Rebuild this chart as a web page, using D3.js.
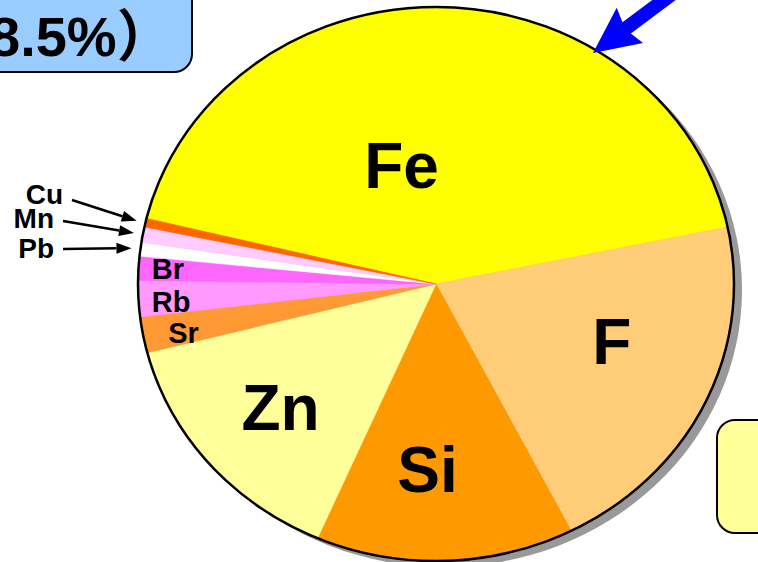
<!DOCTYPE html>
<html>
<head>
<meta charset="utf-8">
<script src="https://cdn.jsdelivr.net/npm/d3@7"></script>
<style>
  html, body { margin: 0; padding: 0; background: #fff; }
  svg { display: block; }
  text { font-family: "Liberation Sans", Arial, "Noto Sans CJK JP", sans-serif; font-weight: bold; fill: #000; }
</style>
</head>
<body>
<div id="chart"></div>
<script>
"use strict";

// element shares (%), clockwise starting with Fe
var elements = ["Fe", "F", "Si", "Zn", "Sr", "Rb", "Br", "Pb", "Mn", "Cu"];
var shares = [42.9, 20.8, 14.0, 14.5, 2.1, 2.1, 1.4, 0.8, 0.9, 0.5];
var sliceColors = ["#FFFF00", "#FFCC77", "#FF9900", "#FFFF99", "#FF9933", "#FF99FF", "#FF66FF", "#FFFFFF", "#FFCCFF", "#FF6600"];

var bigLabels = ["Fe", "F", "Si", "Zn"];
var innerLabels = ["Br", "Rb", "Sr"];
var outerLabels = ["Cu", "Mn", "Pb"];
var boxText = "8.5%）";

var width = 758, height = 562;
var cx = 436, cy = 284, rx = 298, ry = 277;
var sx = rx / ry;
var startAngle = -76.3 * Math.PI / 180;

var svg = d3.select("#chart").append("svg")
    .attr("width", width)
    .attr("height", height);

var data = elements.map(function (e, i) {
    return { name: e, value: shares[i], color: sliceColors[i] };
});

var pie = d3.pie()
    .sort(null)
    .value(function (d) { return d.value; })
    .startAngle(startAngle)
    .endAngle(startAngle + 2 * Math.PI);
var arcs = pie(data);
var byName = {};
arcs.forEach(function (a) { byName[a.data.name] = a; });

var arc = d3.arc().innerRadius(0).outerRadius(ry);

// point on the (stretched) pie at angle a, radius fraction k
function polar(a, k) {
    return [cx + rx * k * Math.sin(a), cy - ry * k * Math.cos(a)];
}
function mid(a) { return (a.startAngle + a.endAngle) / 2; }

// blue callout box (top left), its text runs off the page edge
svg.append("rect")
    .attr("x", -20).attr("y", -20)
    .attr("width", 212).attr("height", 92)
    .attr("rx", 18)
    .attr("fill", "#99CCFF")
    .attr("stroke", "#000")
    .attr("stroke-width", 2);
svg.append("text")
    .attr("x", -11).attr("y", 56)
    .attr("font-size", 56)
    .text(boxText);

// yellow box (bottom right)
svg.append("rect")
    .attr("x", 717).attr("y", 420)
    .attr("width", 80).attr("height", 113)
    .attr("rx", 18)
    .attr("fill", "#FFFF99")
    .attr("stroke", "#000")
    .attr("stroke-width", 2);

// shadow
svg.append("ellipse")
    .attr("cx", cx + 8).attr("cy", cy + 6)
    .attr("rx", rx).attr("ry", ry)
    .attr("fill", "#999999");

var pieLayer = svg.append("g")
    .attr("transform", "translate(" + cx + "," + cy + ") scale(" + sx + ",1)");

pieLayer.selectAll("path")
    .data(arcs)
    .enter().append("path")
    .attr("d", arc)
    .attr("fill", function (d) { return d.data.color; })
    .attr("stroke", function (d) { return d.data.color; })
    .attr("stroke-width", 0.6);

svg.append("ellipse")
    .attr("cx", cx).attr("cy", cy)
    .attr("rx", rx).attr("ry", ry)
    .attr("fill", "none")
    .attr("stroke", "#000")
    .attr("stroke-width", 2.5);

// big labels: radius fraction and angle nudge (deg) from slice middle
var bigLayout = { Fe: [0.445, -16], F: [0.625, -6.3], Si: [0.67, 4.2], Zn: [0.686, 0] };
bigLabels.forEach(function (name) {
    var a = byName[name];
    var l = bigLayout[name];
    var p = polar(mid(a) + l[1] * Math.PI / 180, l[0]);
    svg.append("text")
        .attr("x", p[0]).attr("y", p[1] + 23)
        .attr("text-anchor", "middle")
        .attr("font-size", 64)
        .text(name);
});

// small labels inside thin slices
var innerNudge = { Br: [0, 0], Rb: [0, 3], Sr: [12, 0] };
innerLabels.forEach(function (name) {
    var a = byName[name];
    var p = polar(mid(a), 0.955);
    var n = innerNudge[name];
    svg.append("text")
        .attr("x", p[0] + n[0]).attr("y", p[1] + 10.5 + n[1])
        .attr("font-size", 29)
        .text(name);
});

// outside labels with arrows
var outerLayout = { Cu: [72, 200, 204], Mn: [63, 221, 228], Pb: [63, 249, 258] };
outerLabels.forEach(function (name) {
    var a = byName[name];
    var tip = polar(mid(a), 1.03);
    var l = outerLayout[name];
    var tail = [l[0], l[1]];
    var ang = Math.atan2(tip[1] - tail[1], tip[0] - tail[0]);
    var hl = 15, hw = 5.5;
    var base = [tip[0] - hl * Math.cos(ang), tip[1] - hl * Math.sin(ang)];
    svg.append("line")
        .attr("x1", tail[0]).attr("y1", tail[1])
        .attr("x2", base[0]).attr("y2", base[1])
        .attr("stroke", "#000")
        .attr("stroke-width", 2.5);
    svg.append("path")
        .attr("d", d3.line()([
            tip,
            [base[0] + hw * Math.sin(ang), base[1] - hw * Math.cos(ang)],
            [base[0] - hw * Math.sin(ang), base[1] + hw * Math.cos(ang)]
        ]) + "Z")
        .attr("fill", "#000");
    svg.append("text")
        .attr("x", l[0] - 9).attr("y", l[2])
        .attr("text-anchor", "end")
        .attr("font-size", 28)
        .text(name);
});

// blue arrow pointing at the Fe rim
(function () {
    var tip = [593, 53];
    var ang = Math.atan2(-53, 71);
    var ux = Math.cos(ang), uy = Math.sin(ang);
    var px = -uy, py = ux;
    var hl = 46, hw = 22, sw = 7, len = 140;
    var b = [tip[0] + hl * ux, tip[1] + hl * uy];
    var e = [tip[0] + len * ux, tip[1] + len * uy];
    var pts = [
        tip,
        [b[0] + hw * px, b[1] + hw * py],
        [b[0] - 4 * ux + sw * px, b[1] - 4 * uy + sw * py],
        [e[0] + sw * px, e[1] + sw * py],
        [e[0] - sw * px, e[1] - sw * py],
        [b[0] - 4 * ux - sw * px, b[1] - 4 * uy - sw * py],
        [b[0] - hw * px, b[1] - hw * py]
    ];
    svg.append("path")
        .attr("d", d3.line()(pts) + "Z")
        .attr("fill", "#0000FF");
})();
</script>
</body>
</html>
